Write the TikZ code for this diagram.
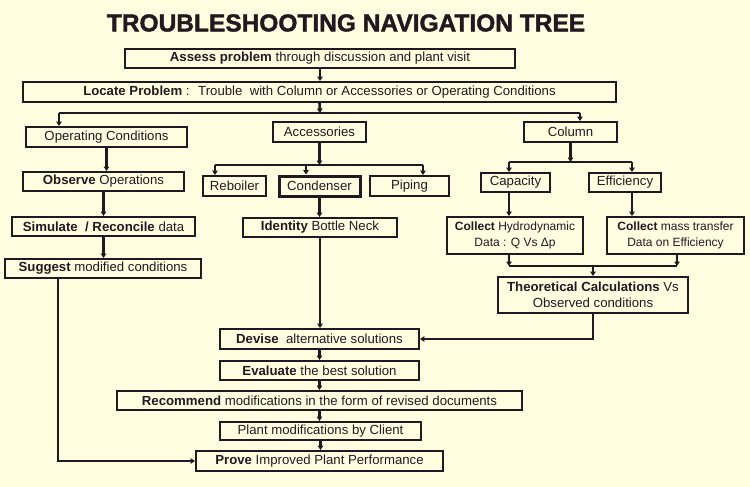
\documentclass[tikz,border=0pt]{standalone}
\usepackage{fontspec}
\setmainfont{Liberation Sans}
\newfontfamily\titlefont{Liberation Sans}[FakeBold=1.6]
\usetikzlibrary{arrows.meta,positioning}
\definecolor{paper}{RGB}{255,254,225}
\definecolor{ink}{RGB}{32,26,32}

\begin{document}
\begin{tikzpicture}[x=1pt,y=-1pt,
  box/.style={draw=ink, text=ink, line width=1.9pt, fill=paper, inner sep=0pt, align=center, font=\fontsize{13.2}{16}\selectfont},
  heavybox/.style={box, line width=3pt},
  smallbox/.style={box, font=\fontsize{12}{16}\selectfont},
  link/.style={draw=ink, line width=2.6pt, -{Triangle[width=5.5pt,length=4.5pt]}},
  bar/.style={draw=ink, line width=2.1pt}]
\fill[paper] (0,0) rectangle (750,487);
\useasboundingbox (0,0) rectangle (750,487);
\node[text=ink, font=\fontsize{24.5}{28}\titlefont\bfseries] (title) at (346,23) {TROUBLESHOOTING NAVIGATION TREE};
% top of the tree
\node[box, minimum width=390, minimum height=19] (assess) at (320,58.5) {\textbf{Assess problem} through discussion and plant visit};
\node[box, minimum width=593, minimum height=20] (locate) at (319.5,92) {\textbf{Locate Problem} :~ Trouble~ with Column or Accessories or Operating Conditions};
\node[box, minimum width=161, minimum height=20] (opcond) at (106.5,137) {Operating Conditions};
\node[box, minimum width=93, minimum height=20] (access) at (319.5,132) {Accessories};
\node[box, minimum width=93, minimum height=20] (column) at (570.5,132) {Column};
% accessories branch
\node[box, minimum width=63, minimum height=20] (reboiler) at (234.5,186) {Reboiler};
\node[heavybox, minimum width=81, minimum height=20] (condenser) at (319.5,186) {Condenser};
\node[box, minimum width=79, minimum height=20] (piping) at (409.5,186) {Piping};
\node[box, minimum width=154, minimum height=19] (identity) at (320,227.5) {\textbf{Identity} Bottle Neck};
% column branch
\node[box, minimum width=69, minimum height=19] (capacity) at (515.5,182.5) {Capacity};
\node[box, minimum width=72, minimum height=19] (efficiency) at (625,182.5) {Efficiency};
\node[smallbox, minimum width=136, minimum height=37] (hydro) at (515,235.5) {\textbf{Collect} Hydrodynamic\\Data : Q Vs Δp};
\node[smallbox, minimum width=137, minimum height=37] (mass) at (675.5,235.5) {\textbf{Collect} mass transfer\\Data on Efficiency};
\node[box, minimum width=190, minimum height=36] (theo) at (593,295) {\textbf{Theoretical Calculations} Vs\\Observed conditions};
% operating conditions branch
\node[box, minimum width=161, minimum height=19] (observe) at (103.5,181.5) {\textbf{Observe} Operations};
\node[box, minimum width=183, minimum height=19] (simulate) at (103.5,226.5) {\textbf{Simulate~ / Reconcile} data};
\node[box, minimum width=196, minimum height=19] (suggest) at (103,268.5) {\textbf{Suggest} modified conditions};
% common trunk
\node[box, minimum width=199, minimum height=20] (devise) at (319.5,339) {\textbf{Devise}~ alternative solutions};
\node[box, minimum width=199, minimum height=19] (evaluate) at (319.5,370.5) {\textbf{Evaluate} the best solution};
\node[box, minimum width=405, minimum height=19] (recommend) at (319.5,400.5) {\textbf{Recommend} modifications in the form of revised documents};
\node[box, minimum width=201, minimum height=18] (plant) at (320.5,431) {Plant modifications by Client};
\node[box, minimum width=247, minimum height=20] (prove) at (319.5,461) {\textbf{Prove} Improved Plant Performance};
% junctions
\coordinate (split) at (320,113);
\coordinate (accsplit) at (319.5,165);
\coordinate (colsplit) at (570.5,162);
\coordinate (merge) at (593,266);
% connectors
\draw[link] (assess.south) -- (assess.south |- locate.north);
\draw[link] (locate.south) -- (split);
\draw[bar] ([xshift=-47.5]opcond.north |- split) -- ([xshift=9.5]column.north |- split);
\draw[link] ([xshift=-47.5]opcond.north |- split) -- ([xshift=-47.5]opcond.north);
\draw[link] ([xshift=9.5]column.north |- split) -- ([xshift=9.5]column.north);
\draw[link] (access.south) -- (accsplit);
\draw[bar] ([xshift=-19.5]reboiler.north |- accsplit) -- ([xshift=13.5]piping.north |- accsplit);
\draw[link] ([xshift=-19.5]reboiler.north |- accsplit) -- ([xshift=-19.5]reboiler.north);
\draw[link] ([xshift=-13.5]condenser.north |- accsplit) -- ([xshift=-13.5]condenser.north);
\draw[link] ([xshift=13.5]piping.north |- accsplit) -- ([xshift=13.5]piping.north);
\draw[link] (condenser.south) -- (condenser.south |- identity.north);
\draw[link] (identity.south) -- (identity.south |- devise.north);
\draw[link] (column.south) -- (colsplit);
\draw[bar] ([xshift=-6.5]capacity.north |- colsplit) -- ([xshift=7]efficiency.north |- colsplit);
\draw[link] ([xshift=-6.5]capacity.north |- colsplit) -- ([xshift=-6.5]capacity.north);
\draw[link] ([xshift=7]efficiency.north |- colsplit) -- ([xshift=7]efficiency.north);
\draw[link] ([xshift=-6.5]capacity.south) -- ([xshift=-6.5]capacity.south |- hydro.north);
\draw[link] ([xshift=7]efficiency.south) -- ([xshift=7]efficiency.south |- mass.north);
\draw[bar] ([xshift=-6]hydro.south |- merge) -- ([xshift=1.5]mass.south |- merge);
\draw[link] ([xshift=-6]hydro.south) -- ([xshift=-6]hydro.south |- merge);
\draw[link] ([xshift=1.5]mass.south) -- ([xshift=1.5]mass.south |- merge);
\draw[link] (merge) -- (theo.north);
\draw[link] (theo.south) |- (devise.east);
\draw[link] (opcond.south) -- (opcond.south |- observe.north);
\draw[link] (observe.south) -- (observe.south |- simulate.north);
\draw[link] (simulate.south) -- (simulate.south |- suggest.north);
\draw[link] ([xshift=-45]suggest.south) |- (prove.west);
\draw[link] (devise.south) -- (devise.south |- evaluate.north);
\draw[link] (evaluate.south) -- (evaluate.south |- recommend.north);
\draw[link] (recommend.south) -- (recommend.south |- plant.north);
\draw[link] (plant.south) -- (plant.south |- prove.north);
\end{tikzpicture}
\end{document}
